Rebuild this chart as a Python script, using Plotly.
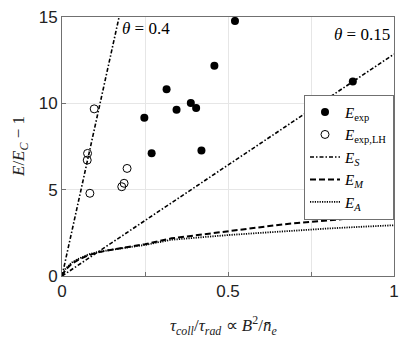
import plotly.graph_objects as go

# --- data ---
exp_x = [0.248, 0.27, 0.315, 0.345, 0.388, 0.404, 0.42, 0.459, 0.521, 0.876]
exp_y = [9.17, 7.11, 10.81, 9.63, 10.02, 9.73, 7.27, 12.17, 14.77, 11.27]

lh_x = [0.097, 0.077, 0.076, 0.196, 0.084, 0.18, 0.187]
lh_y = [9.68, 7.1, 6.71, 6.23, 4.79, 5.17, 5.37]

es04_x = [0.0, 0.172]
es04_y = [0.0, 15.0]
es015_x = [0.0, 1.0]
es015_y = [0.0, 12.85]

curve_x = [0, 0.01, 0.03, 0.05, 0.08, 0.11, 0.15, 0.2, 0.25, 0.33, 0.4, 0.5, 0.6, 0.67, 0.8, 0.9, 1.0]
em_y = [0, 0.35, 0.72, 0.95, 1.2, 1.38, 1.52, 1.68, 1.84, 2.18, 2.35, 2.58, 2.8, 3.0, 3.22, 3.4, 3.56]
ea_y = [0, 0.4, 0.78, 1.0, 1.25, 1.4, 1.52, 1.66, 1.8, 2.1, 2.22, 2.37, 2.5, 2.6, 2.75, 2.85, 2.94]

x_ticks = [0, 0.25, 0.5, 0.75, 1]
x_ticktext = ["0", "", "0.5", "", "1"]
y_ticks = [0, 5, 10, 15]

serif = "Liberation Serif"
sans = "Liberation Sans"

fig = go.Figure()

fig.add_trace(go.Scatter(
    x=exp_x, y=exp_y, mode="markers",
    marker=dict(symbol="circle", size=8, color="black"),
    name="<i>E</i><sub>exp</sub>"
))
fig.add_trace(go.Scatter(
    x=lh_x, y=lh_y, mode="markers",
    marker=dict(symbol="circle-open", size=8, color="black", line=dict(width=1)),
    name="<i>E</i><sub>exp,LH</sub>"
))
fig.add_trace(go.Scatter(
    x=es015_x, y=es015_y, mode="lines",
    line=dict(color="black", width=1.6, dash="4px,2px,1.5px,2px"),
    name="<i>E<sub>S</sub></i>"
))
fig.add_trace(go.Scatter(
    x=es04_x, y=es04_y, mode="lines",
    line=dict(color="black", width=1.6, dash="4px,2px,1.5px,2px"),
    showlegend=False
))
fig.add_trace(go.Scatter(
    x=curve_x, y=em_y, mode="lines",
    line=dict(color="black", width=2, dash="6px,3px"),
    name="<i>E<sub>M</sub></i>"
))
fig.add_trace(go.Scatter(
    x=curve_x, y=ea_y, mode="lines",
    line=dict(color="black", width=1.8, dash="1.2px,1.2px"),
    name="<i>E<sub>A</sub></i>"
))

# theta labels
fig.add_annotation(x=0.175, y=15, xanchor="left", yanchor="top", showarrow=False,
                   text="<i>θ</i> = 0.4", font=dict(family=serif, size=17, color="black"))
fig.add_annotation(x=0.995, y=13.3, xanchor="right", yanchor="bottom", showarrow=False,
                   text="<i>θ</i> = 0.15", font=dict(family=serif, size=17, color="black"))

# axis titles placed by hand
fig.add_annotation(xref="paper", yref="paper", x=0.485, y=-0.19, yanchor="middle",
                   showarrow=False,
                   text="<i>τ<sub>coll</sub></i>/<i>τ<sub>rad</sub></i> ∝ <i>B</i><sup>2</sup>/<i>n̄<sub>e</sub></i>",
                   font=dict(family=serif, size=17, color="#222"))
fig.add_annotation(xref="paper", yref="paper", x=-0.128, y=0.5, xanchor="center",
                   showarrow=False, textangle=-90,
                   text="<i>E</i>/<i>E<sub>C</sub></i> − 1",
                   font=dict(family=serif, size=17, color="#222"))

axis_common = dict(
    showline=True, linecolor="#707070", linewidth=1, mirror=True,
    showgrid=True, gridcolor="#e6e6e6", gridwidth=1,
    ticks="inside", ticklen=4, tickcolor="#707070",
    zeroline=False, automargin=False,
    tickfont=dict(family=sans, size=17, color="#222"),
)

fig.update_xaxes(range=[0, 1], tickvals=x_ticks, ticktext=x_ticktext, **axis_common)
fig.update_yaxes(range=[0, 15], tickvals=y_ticks, **axis_common)

fig.update_layout(
    width=415, height=346,
    margin=dict(l=62, r=21, t=17, b=70),
    plot_bgcolor="white", paper_bgcolor="white",
    legend=dict(x=1, xanchor="right", y=0.70, yanchor="top",
                bgcolor="white", bordercolor="#707070", borderwidth=1,
                font=dict(family=serif, size=15, color="black"),
                tracegroupgap=0, itemwidth=30),
    showlegend=True,
)

# page body has an 8px default margin; drop it so the figure sits at the corner
fig.write_html("out.html", config={"displayModeBar": False},
               post_script="document.body.style.margin='0';")
